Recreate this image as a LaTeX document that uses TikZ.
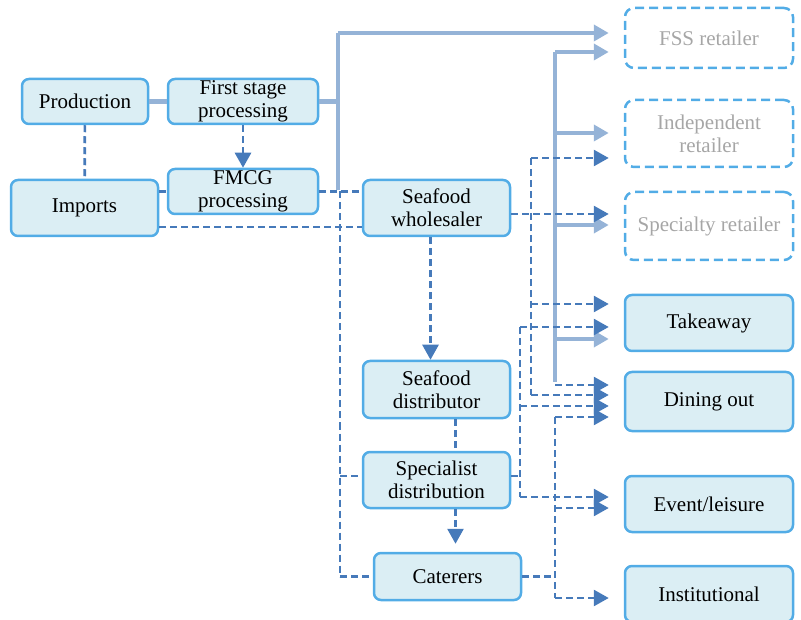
\documentclass[tikz,border=0pt]{standalone}
\usepackage{fontspec}
\setmainfont{Liberation Serif}
\usetikzlibrary{arrows.meta}
\definecolor{boxedge}{RGB}{82,172,230}
\definecolor{boxfill}{RGB}{219,238,244}
\definecolor{flowlight}{RGB}{149,179,215}
\definecolor{flowdark}{RGB}{70,122,186}
\definecolor{outletgray}{RGB}{166,166,166}

\begin{document}
\begin{tikzpicture}[x=1pt,y=-1pt,
	stage/.style={draw=boxedge, fill=boxfill, line width=2.5pt, rounded corners=7pt,
		inner sep=0pt, align=center, font=\fontsize{21}{23.3}\selectfont},
	retail/.style={draw=boxedge, line width=2.5pt, rounded corners=9pt, dash pattern=on 9pt off 5pt,
		inner sep=0pt, align=center, text=outletgray, font=\fontsize{21}{23.3}\selectfont},
	lightline/.style={draw=flowlight, line width=4.5pt},
	lightarrow/.style={lightline, -{Triangle[length=15pt,width=16pt]}, shorten >=15pt},
	darkline/.style={draw=flowdark, line width=2.7pt, dash pattern=on 7pt off 4pt},
	darkarrow/.style={darkline, -{Triangle[length=15pt,width=16pt]}},
	toout/.style={shorten >=15pt}]
	\useasboundingbox (0,0) rectangle (801,620);

	\node[stage, minimum width=126pt, minimum height=45pt] (prod) at (85,101.5) {Production};
	\node[stage, minimum width=150pt, minimum height=45pt] (first) at (243,101.5) {First stage\\processing};
	\node[stage, minimum width=150pt, minimum height=45pt] (fmcg) at (243,191.5) {FMCG\\processing};
	\node[stage, minimum width=147pt, minimum height=56pt] (imports) at (84.5,208) {Imports};
	\node[stage, minimum width=147pt, minimum height=56pt] (whole) at (436.5,208) {Seafood\\wholesaler};
	\node[stage, minimum width=147pt, minimum height=57pt] (dist) at (436.5,389.5) {Seafood\\distributor};
	\node[stage, minimum width=147pt, minimum height=56pt] (spec) at (436.5,480) {Specialist\\distribution};
	\node[stage, minimum width=147pt, minimum height=47pt] (cater) at (447.5,576.5) {Caterers};

	\node[retail, minimum width=168pt, minimum height=60pt] (fss) at (709,38) {FSS retailer};
	\node[retail, minimum width=168pt, minimum height=67pt] (indep) at (709,133.5) {Independent\\retailer};
	\node[retail, minimum width=168pt, minimum height=68pt] (specr) at (709,226) {Specialty retailer};
	\node[stage, minimum width=168pt, minimum height=56pt] (take) at (709,323) {Takeaway};
	\node[stage, minimum width=168pt, minimum height=59pt] (dine) at (709,401.5) {Dining out};
	\node[stage, minimum width=168pt, minimum height=56pt] (event) at (709,504) {Event/leisure};
	\node[stage, minimum width=168pt, minimum height=56pt] (inst) at (709,594) {Institutional};

	% junctions of the vertical runs
	\coordinate (a1) at (338,33);
	\coordinate (a2) at (338,190);
	\coordinate (b1) at (555,52);
	\coordinate (b2) at (555,133);
	\coordinate (b3) at (555,225);
	\coordinate (b4) at (555,339);
	\coordinate (b5) at (555,382);
	\coordinate (b6) at (555,385);
	\coordinate (c1) at (531,158);
	\coordinate (c2) at (531,304);
	\coordinate (c3) at (531,395);
	\coordinate (d1) at (520,327);
	\coordinate (d2) at (520,406);
	\coordinate (d3) at (520,476);
	\coordinate (d4) at (520,497);
	\coordinate (e1) at (555,417);
	\coordinate (e2) at (555,508);
	\coordinate (e3) at (555,576.5);
	\coordinate (e4) at (555,598);
	\coordinate (f1) at (340,191.5);
	\coordinate (f2) at (340,476);
	\coordinate (f3) at (340,576.5);
	\coordinate (wout) at ([yshift=-6pt]whole.east);
	\coordinate (iout) at ([yshift=-19pt]imports.east);

	% solid flows
	\draw[lightline] (prod) -- (first);
	\draw[lightline] (first.east) -- (first.east -| a1);
	\draw[lightline] (a2) -- (a1);
	\draw[lightarrow] (a1) -- (a1 -| fss.west);
	\draw[lightline] (b1) -- (b5);
	\foreach \p/\b in {b1/fss, b2/indep, b3/specr, b4/take}
		\draw[lightarrow] (\p) -- (\p -| \b.west);

	% dashed flows
	\draw[darkline] (prod) -- (imports);
	\draw[darkarrow] (first) -- (fmcg.north);
	\draw[darkline] (fmcg.west -| imports.east) -- (fmcg.west);
	\draw[darkline] (fmcg.east) -- (fmcg.east -| whole.west);
	\draw[darkline] (iout) -- (iout -| whole.west);
	\draw[darkline] (f1) -- (f3);
	\draw[darkline] (f2) -- (f2 -| spec.west);
	\draw[darkline] (f3) -- (cater.west);
	\draw[darkarrow] ([xshift=-6pt]whole.south) -- ([xshift=-6pt]dist.north);
	\draw[darkline] ([xshift=19pt]dist.south) -- ([xshift=19pt]spec.north);
	\draw[darkarrow, shorten >=8pt] ([xshift=19pt]spec.south) -- ([xshift=19pt]spec.south |- cater.north);
	\draw[darkarrow, toout] (wout) -- (wout -| specr.west);
	\draw[darkline] (c1) -- (c3);
	\draw[darkline] (d1) -- (d4);
	\draw[darkline] (d3 -| spec.east) -- (d3);
	\draw[darkline] (e1) -- (e4);
	\draw[darkline] (cater.east) -- (e3);
	\foreach \p/\b in {b6/dine, c1/indep, c2/take, c3/dine, d1/take, d2/dine, d4/event, e1/dine, e2/event, e4/inst}
		\draw[darkarrow, toout] (\p) -- (\p -| \b.west);
\end{tikzpicture}
\end{document}
